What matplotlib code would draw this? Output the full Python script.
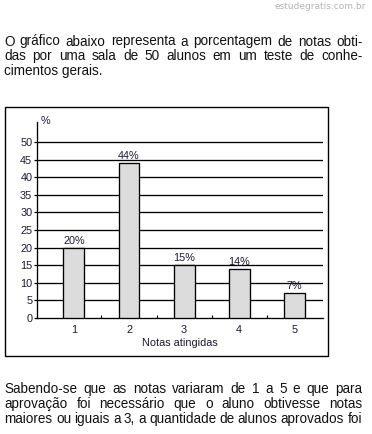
import matplotlib
matplotlib.use("Agg")
import matplotlib.pyplot as plt
from matplotlib.patches import Rectangle

plt.rcParams.update({
    "font.family": ["Liberation Sans", "DejaVu Sans"],
    "figure.dpi": 100,
})

# --- Data --------------------------------------------------------
notas = [1, 2, 3, 4, 5]
percentuais = [20, 44, 15, 14, 7]
rotulos = [f"{v}%" for v in percentuais]
y_ticks = [0, 5, 10, 15, 20, 25, 30, 35, 40, 45, 50]

texto_topo = [
    "O gráfico abaixo representa a porcentagem de notas obti-",
    "das por uma sala de 50 alunos em um teste de conhe-",
    "cimentos gerais.",
]
texto_base = [
    "Sabendo-se que as notas variaram de 1 a 5 e que para",
    "aprovação foi necessário que o aluno obtivesse notas",
    "maiores ou iguais a 3, a quantidade de alunos aprovados foi",
]

W, H = 372, 434
TEXT_COLOR = "#111111"
CHART_TEXT = "#1a1a30"
BAR_COLOR = "#dcdcdc"

fig = plt.figure(figsize=(W / 100, H / 100), dpi=100)
fig.patch.set_facecolor("white")


def fx(px):
    return px / W


def fy(py):
    return 1 - py / H


def justified(lines, baselines, x0, x1, size, last_justified):
    renderer = fig.canvas.get_renderer()
    for i, (line, yb) in enumerate(zip(lines, baselines)):
        words = line.split(" ")
        is_last = i == len(lines) - 1
        if is_last and not last_justified:
            fig.text(fx(x0), fy(yb), line, fontsize=size, color=TEXT_COLOR,
                     ha="left", va="baseline")
            continue
        items = [fig.text(0, fy(yb), w, fontsize=size, color=TEXT_COLOR,
                          ha="left", va="baseline") for w in words]
        widths = [t.get_window_extent(renderer).width for t in items]
        gap = (x1 - x0 - sum(widths)) / max(len(words) - 1, 1)
        x = x0
        for t, w in zip(items, widths):
            t.set_x(fx(x))
            x += w + gap


# --- Paragraphs --------------------------------------------------
justified(texto_topo, [45.5, 60.2, 74.6], 4, 362.5, 9.75, False)
justified(texto_base, [393.3, 408.2, 422.8], 4.5, 362, 9.75, True)

# watermark
fig.text(fx(366), fy(6.5), "estudegratis.com.br", fontsize=6.5,
         color="#b4b4b4", ha="right", va="center",
         family=["DejaVu Sans"])

# --- Frame around chart ------------------------------------------
fig.patches.append(Rectangle((fx(5), fy(356)), fx(323), 249 / H,
                             transform=fig.transFigure, fill=False,
                             edgecolor="black", linewidth=1.0))

# --- Chart -------------------------------------------------------
ax_left, ax_right, ax_bottom, ax_top = 37, 323, 318, 122
ax = fig.add_axes([fx(ax_left), fy(ax_bottom),
                   fx(ax_right - ax_left), (ax_bottom - ax_top) / H])
ax.set_facecolor("none")

y_top = 50 * (ax_bottom - ax_top) / 176
ax.set_ylim(0, y_top)
ax.set_xlim(0.33, 5.52)

for y in y_ticks[1:]:
    ax.axhline(y, color="black", linewidth=0.95, zorder=1)

bars = ax.bar(notas, percentuais, width=0.38, color=BAR_COLOR,
              edgecolor="black", linewidth=0.95, zorder=3)
for bar, lab in zip(bars, rotulos):
    ax.annotate(lab, (bar.get_x() + bar.get_width() / 2, bar.get_height()),
                xytext=(0, 1.5), textcoords="offset points",
                ha="center", va="bottom", fontsize=7.8, color=CHART_TEXT)

for s in ["top", "right"]:
    ax.spines[s].set_visible(False)
ax.spines["left"].set_linewidth(0.95)
ax.spines["bottom"].set_linewidth(0.95)

ax.set_yticks(y_ticks)
ax.set_yticklabels([str(v) for v in y_ticks])
ax.tick_params(axis="y", direction="out", length=2.2, width=0.9,
               pad=1.2, labelsize=7.8, labelcolor=CHART_TEXT)

ax.set_xticks(notas)
ax.set_xticklabels([str(n) for n in notas])
ax.set_xticks([n + 0.5 for n in notas[:-1]], minor=True)
ax.tick_params(axis="x", which="major", length=0, pad=5.2,
               labelsize=7.8, labelcolor=CHART_TEXT)
ax.tick_params(axis="x", which="minor", direction="in", length=2.2,
               width=0.9)

fig.text(fx(45), fy(121.5), "%", fontsize=7.8, color=CHART_TEXT,
         ha="center", va="center")
fig.text(fx(180), fy(343.3), "Notas atingidas", fontsize=7.8,
         color=CHART_TEXT, ha="center", va="center")

fig.savefig("out.png", dpi=100, facecolor="white")
